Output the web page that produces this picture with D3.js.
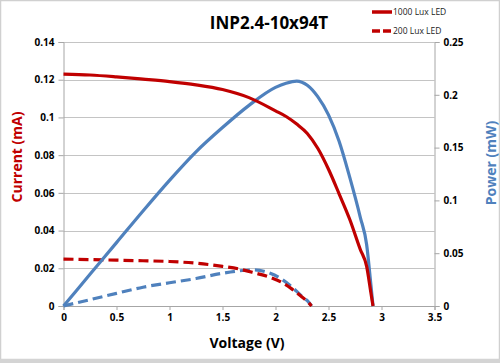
<!DOCTYPE html>
<html><head><meta charset="utf-8">
<script src="https://cdn.jsdelivr.net/npm/d3@7"></script>
<style>body{margin:0;background:#fff}svg{display:block;font-family:"Open Sans",sans-serif}</style>
</head><body><svg id="c" width="500" height="363"></svg>
<script>
const title = "INP2.4-10x94T";
const seriesNames = ["1000 Lux LED", "200 Lux LED"];
const xTicks = [0, 0.5, 1, 1.5, 2, 2.5, 3, 3.5];
const yLeftTicks = [0, 0.02, 0.04, 0.06, 0.08, 0.1, 0.12, 0.14];
const yRightTicks = [0, 0.05, 0.1, 0.15, 0.2, 0.25];

const volt1000 = [0,0.25,0.5,0.75,1.0,1.25,1.5,1.75,2.0,2.1,2.2,2.3,2.4,2.5,2.6,2.7,2.8,2.86,2.9,2.92];
const curr1000 = [0.123,0.1225,0.1215,0.1203,0.119,0.1173,0.1148,0.1105,0.1035,0.1005,0.0965,0.0915,0.0835,0.0725,0.0595,0.046,0.030,0.021,0.007,0];
const pow1000  = [0,0.030,0.060,0.090,0.119,0.146,0.169,0.190,0.207,0.211,0.213,0.209,0.198,0.181,0.156,0.122,0.084,0.058,0.020,0];

const volt200 = [0,0.25,0.5,0.75,1.0,1.25,1.5,1.65,1.8,1.95,2.05,2.15,2.25,2.3,2.34];
const curr200 = [0.0249,0.0246,0.0243,0.0240,0.0236,0.0227,0.0210,0.0197,0.0176,0.0152,0.0128,0.0092,0.0048,0.0025,0];
const pow200  = [0,0.006,0.012,0.0178,0.022,0.026,0.031,0.0332,0.0342,0.031,0.026,0.0185,0.009,0.005,0];

const RED = "#c00000", BLUE = "#4f81bd";
const svg = d3.select("#c");
const L = 63.5, R = 434.5, T = 42, B = 306;
const x = d3.scaleLinear().domain([0,3.5]).range([L,R]);
const yL = d3.scaleLinear().domain([0,0.14]).range([B,T]);
const yR = d3.scaleLinear().domain([0,0.25]).range([B,T]);

svg.append("rect").attr("x",0.5).attr("y",0.5).attr("width",499).attr("height",359)
  .attr("fill","#fff").attr("stroke","#d0d0d0").attr("stroke-width",1.5);
svg.append("rect").attr("x",0).attr("y",359).attr("width",500).attr("height",4).attr("fill","#d4d4d4");

// gridlines
svg.append("g").selectAll("line").data(yLeftTicks.slice(1)).join("line")
  .attr("x1",L).attr("x2",R).attr("y1",d=>Math.round(yL(d))+0.5).attr("y2",d=>Math.round(yL(d))+0.5)
  .attr("stroke","#c4c4c4").attr("stroke-width",1);

const fmt = d => d3.format("")(+d.toFixed(3));
const axB = svg.append("g").attr("transform",`translate(0,${B})`)
  .call(d3.axisBottom(x).tickValues(xTicks).tickFormat(fmt).tickSize(4).tickPadding(4));
const axL = svg.append("g").attr("transform",`translate(${L},0)`)
  .call(d3.axisLeft(yL).tickValues(yLeftTicks).tickFormat(fmt).tickSize(5).tickPadding(4));
const axR = svg.append("g").attr("transform",`translate(${R},0)`)
  .call(d3.axisRight(yR).tickValues(yRightTicks).tickFormat(fmt).tickSize(5).tickPadding(4));
[axB,axL,axR].forEach(a=>{
  a.select(".domain").attr("stroke","#a6a6a6");
  a.selectAll(".tick line").attr("stroke","#a6a6a6");
  a.selectAll("text").attr("font-size",10).attr("font-weight","bold").attr("fill","#000")
   .attr("font-family","'Open Sans',sans-serif");
});

function draw(vs, ys, scale, color, dash) {
  const line = d3.line().x((d,i)=>x(vs[i])).y(d=>scale(d)).curve(d3.curveMonotoneX);
  svg.append("path").attr("d", line(ys)).attr("fill","none").attr("stroke",color)
    .attr("stroke-width",3.2).attr("stroke-dasharray",dash||null).attr("stroke-linejoin","round");
}
draw(volt200, pow200, yR, BLUE, "10,5");
draw(volt200, curr200, yL, RED, "10,5");
draw(volt1000, pow1000, yR, BLUE);
draw(volt1000, curr1000, yL, RED);

svg.append("text").attr("x",269).attr("y",29).attr("text-anchor","middle")
  .attr("font-size",17).attr("font-weight","bold").text(title);

svg.append("text").attr("x",247).attr("y",348).attr("text-anchor","middle")
  .attr("font-size",14).attr("font-weight","bold").text("Voltage (V)");
svg.append("text").attr("transform","translate(22,157) rotate(-90)").attr("text-anchor","middle")
  .attr("font-size",14).attr("font-weight","bold").attr("fill",RED).text("Current (mA)");
svg.append("text").attr("transform","translate(496,163) rotate(-90)").attr("text-anchor","middle")
  .attr("font-size",14).attr("font-weight","bold").attr("fill",BLUE).text("Power (mW)");

// legend
const lg = svg.append("g");
[[12,null],[31,"8,3"]].forEach(([yy,dash],i)=>{
  lg.append("line").attr("x1",372).attr("x2",392).attr("y1",yy).attr("y2",yy)
    .attr("stroke",RED).attr("stroke-width",3.5).attr("stroke-dasharray",dash);
  lg.append("text").attr("x",393).attr("y",yy+3).attr("font-size",8.5).attr("fill","#222")
    .text(seriesNames[i]);
});
</script></body></html>
